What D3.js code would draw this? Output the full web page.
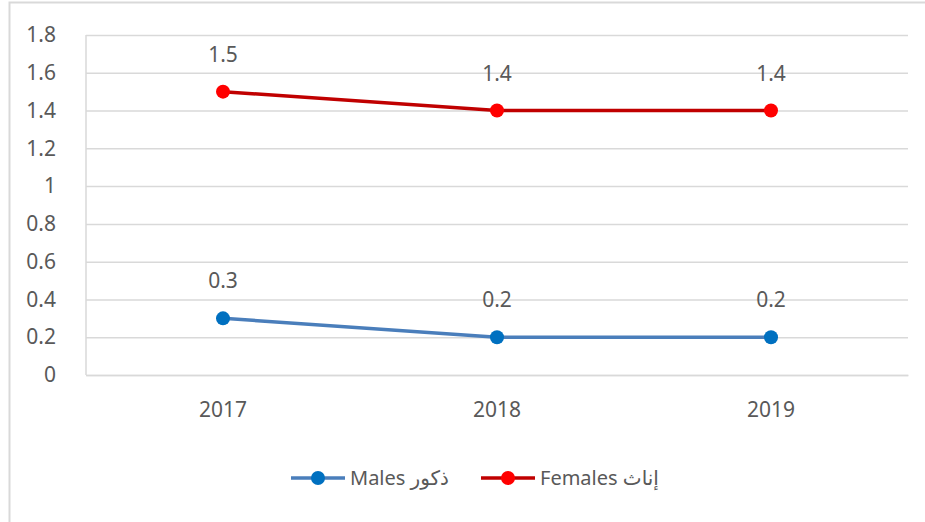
<!DOCTYPE html>
<html>
<head>
<meta charset="utf-8">
<script src="https://cdn.jsdelivr.net/npm/d3@7"></script>
<style>
	body { margin: 0; background: #fff; }
	text { font-family: "Noto Sans", "DejaVu Sans", sans-serif; fill: #595959; }
</style>
</head>
<body>
<div id="wrapper"></div>
<script>
const years = ["2017", "2018", "2019"];
const males = [0.3, 0.2, 0.2];
const females = [1.5, 1.4, 1.4];
const yTicks = [0, 0.2, 0.4, 0.6, 0.8, 1, 1.2, 1.4, 1.6, 1.8];
const seriesNames = ["Males ذكور", "Females إناث"];

function drawChart(){
	const series = [
		{name: seriesNames[0], values: males, line: "#4a7ebb", dot: "#0070c0"},
		{name: seriesNames[1], values: females, line: "#c00000", dot: "#ff0000"}
	];

	let dimensions = {
		width: 925,
		height: 522,
		margin: {top: 35, right: 17, bottom: 147, left: 86}
	};
	dimensions.boundedWidth = dimensions.width - dimensions.margin.left - dimensions.margin.right;
	dimensions.boundedHeight = dimensions.height - dimensions.margin.top - dimensions.margin.bottom;

	const wrapper = d3.select("#wrapper").append("svg")
		.attr("width", dimensions.width)
		.attr("height", dimensions.height);

	// outer chart frame (runs off the right and bottom edges)
	wrapper.append("rect")
		.attr("x", 9.5).attr("y", 2.5)
		.attr("width", 1000).attr("height", 600)
		.attr("fill", "none")
		.attr("stroke", "#d9d9d9")
		.attr("stroke-width", 2);

	const bounds = wrapper.append("g")
		.attr("transform", `translate(${dimensions.margin.left},${dimensions.margin.top})`);

	const xScaler = d3.scaleBand()
		.domain(years)
		.range([0, dimensions.boundedWidth])
		.padding(0);

	const yScaler = d3.scaleLinear()
		.domain([0, 1.8])
		.range([dimensions.boundedHeight, 0]);

	const xCenter = d => xScaler(d) + xScaler.bandwidth() / 2;

	// gridlines
	const yAxisGen = d3.axisLeft(yScaler)
		.tickValues(yTicks)
		.tickSize(-dimensions.boundedWidth)
		.tickPadding(30)
		.tickFormat(d => d3.format("")(+d.toFixed(1)));
	const axisY = bounds.append("g").call(yAxisGen);
	axisY.select(".domain").remove();
	axisY.selectAll(".tick line").attr("stroke", "#d9d9d9").attr("stroke-width", 1.5);
	axisY.selectAll(".tick text")
		.attr("font-size", 21)
		.attr("fill", "#595959");

	// left vertical line
	bounds.append("line")
		.attr("x1", 0).attr("x2", 0)
		.attr("y1", 0).attr("y2", dimensions.boundedHeight)
		.attr("stroke", "#d9d9d9").attr("stroke-width", 1.5);

	const xAxisGen = d3.axisBottom(xScaler).tickSize(0).tickPadding(27);
	const axisX = bounds.append("g")
		.attr("transform", `translate(0,${dimensions.boundedHeight})`)
		.call(xAxisGen);
	axisX.select(".domain").attr("stroke", "#d9d9d9").attr("stroke-width", 1.5);
	axisX.selectAll(".tick text").attr("font-size", 21).attr("fill", "#595959");

	const lineGen = d3.line()
		.x((d, i) => xCenter(years[i]))
		.y(d => yScaler(d));

	series.forEach(s => {
		const g = bounds.append("g");
		g.append("path")
			.attr("d", lineGen(s.values))
			.attr("fill", "none")
			.attr("stroke", s.line)
			.attr("stroke-width", 3.5);
		g.selectAll("circle")
			.data(s.values)
			.enter()
			.append("circle")
			.attr("cx", (d, i) => xCenter(years[i]))
			.attr("cy", d => yScaler(d))
			.attr("r", 7)
			.attr("fill", s.dot);
		g.selectAll("text")
			.data(s.values)
			.enter()
			.append("text")
			.attr("x", (d, i) => xCenter(years[i]))
			.attr("y", d => yScaler(d) - 30)
			.attr("text-anchor", "middle")
			.attr("font-size", 21)
			.text(d => d);
	});

	// legend
	const legend = wrapper.append("g").attr("transform", "translate(291,478)");
	const legendX = [0, 190];
	series.forEach((s, i) => {
		const item = legend.append("g").attr("transform", `translate(${legendX[i]},0)`);
		item.append("line")
			.attr("x1", 0).attr("x2", 54)
			.attr("y1", 0).attr("y2", 0)
			.attr("stroke", s.line).attr("stroke-width", 3.5);
		item.append("circle")
			.attr("cx", 27).attr("cy", 0).attr("r", 7)
			.attr("fill", s.dot);
		item.append("text")
			.attr("x", 59).attr("y", 0)
			.attr("dy", "0.35em")
			.attr("font-size", 20)
			.text(s.name);
	});
}

drawChart();
</script>
</body>
</html>
